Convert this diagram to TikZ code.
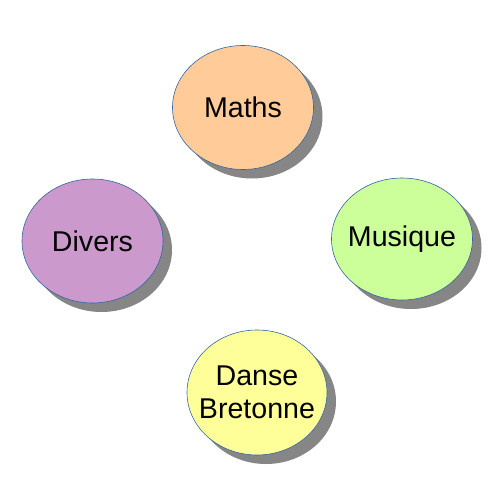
\documentclass[tikz,border=0pt]{standalone}
\usepackage{fontspec}
\setmainfont{Liberation Sans}
\usetikzlibrary{shapes.geometric,shadows}
\definecolor{rim}{HTML}{3465A4}
\definecolor{mathscol}{HTML}{FFCC99}
\definecolor{diverscol}{HTML}{CC99CC}
\definecolor{musiquecol}{HTML}{CCFF99}
\definecolor{dansecol}{HTML}{FFFF99}
\tikzset{
  topic/.style={ellipse, draw=rim, line width=0.6pt, inner sep=0pt,
    minimum width=141pt, minimum height=124pt,
    drop shadow={shadow xshift=9pt, shadow yshift=-9pt, fill=gray!95, opacity=1}},
  topictext/.style={align=center, inner sep=0pt, font=\fontsize{28.6}{33}\selectfont}
}
\begin{document}
\begin{tikzpicture}[x=1pt,y=-1pt]
  \useasboundingbox (0,0) rectangle (500,500);
  \node[topic, fill=mathscol, label={[topictext]center:Maths}] (maths) at (243,107.5) {};
  \node[topic, fill=diverscol, label={[topictext]center:Divers}] (divers) at (92.5,241) {};
  \node[topic, fill=musiquecol, minimum height=122pt,
        label={[topictext]center:Musique}] (musique) at (402,239) {};
  \node[topic, fill=dansecol, minimum width=140pt, minimum height=125pt,
        label={[topictext]center:Danse\\Bretonne}] (danse) at (257,392.5) {};
\end{tikzpicture}
\end{document}
